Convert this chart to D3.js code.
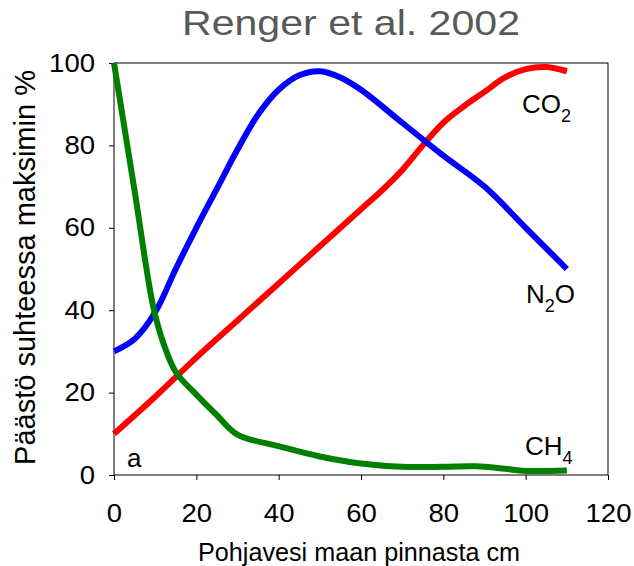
<!DOCTYPE html>
<html>
<head>
<meta charset="utf-8">
<script src="https://cdn.jsdelivr.net/npm/d3@7/dist/d3.min.js"></script>
<style>
  body { margin: 0; background: #fff; }
  text { font-family: "Liberation Sans", Arial, sans-serif; }
</style>
</head>
<body>
<div id="root"></div>
<script>
var w = 634,
    h = 566;

// depth below soil surface (cm) and emission relative to maximum (%)
var co2Depth = [0, 10, 20, 30, 40, 50, 60, 65, 70, 75, 80, 85, 90, 95, 100, 105, 110];
var co2Value = [10, 19, 28.5, 37.5, 46.5, 55.5, 64.5, 69, 74, 80, 85.5, 89.5, 93, 96.5, 98.5, 99, 98];

var n2oDepth = [0, 5, 10, 15, 20, 25, 30, 35, 40, 45, 50, 55, 60, 70, 80, 90, 100, 110];
var n2oValue = [30, 33, 39.5, 50, 60, 69.5, 79, 87.5, 93.5, 97, 98, 96.5, 93.5, 85.5, 77.5, 70, 60, 50];

var ch4Depth = [0, 5, 9.5, 12, 15, 20, 25, 30, 40, 50, 60, 70, 80, 88, 95, 100, 110];
var ch4Value = [100, 69, 41, 32, 25, 19.5, 14.5, 9.8, 7, 4.5, 2.8, 2, 2, 2.1, 1.5, 1, 1.1];

var xTicks = [0, 20, 40, 60, 80, 100, 120];
var yTicks = [0, 20, 40, 60, 80, 100];

var margin = { left: 114, right: 26, top: 63, bottom: 91 };

var svg = d3.select('#root')
  .append('svg')
    .attr('width', w)
    .attr('height', h);

var x = d3.scaleLinear()
    .domain([0, 120])
    .range([margin.left, w - margin.right]);

var y = d3.scaleLinear()
    .domain([0, 100])
    .range([h - margin.bottom, margin.top]);

// frame
svg.append('rect')
    .attr('x', x(0))
    .attr('y', y(100))
    .attr('width', x(120) - x(0))
    .attr('height', y(0) - y(100))
    .attr('fill', 'none')
    .attr('stroke', '#000')
    .attr('stroke-width', 1);

var xAxis = svg.append('g')
    .attr('transform', 'translate(0,' + y(0) + ')')
    .call(d3.axisBottom(x).tickValues(xTicks).tickSize(5).tickPadding(24).tickFormat(d3.format('d')));

var yAxis = svg.append('g')
    .attr('transform', 'translate(' + x(0) + ',0)')
    .call(d3.axisLeft(y).tickValues(yTicks).tickSize(5).tickPadding(14).tickFormat(d3.format('d')));

[xAxis, yAxis].forEach(function (ax) {
  ax.select('.domain').remove();
  ax.selectAll('line').attr('stroke', '#000');
  ax.selectAll('text')
      .attr('fill', '#000')
      .style('font-size', '25px')
      .attr('lengthAdjust', 'spacingAndGlyphs')
      .attr('textLength', function (d) {
        return String(d).length * 15.3;
      });
});
xAxis.selectAll('text').attr('dy', '0.71em');

var line = d3.line()
    .x(function (d) { return x(d[0]); })
    .y(function (d) { return y(d[1]); })
    .curve(d3.curveCatmullRom.alpha(0.5));

function pairs(xs, ys) {
  return xs.map(function (v, i) { return [v, ys[i]]; });
}

var series = [
  { name: 'co2', colour: '#ff0000', points: pairs(co2Depth, co2Value) },
  { name: 'n2o', colour: '#0000ff', points: pairs(n2oDepth, n2oValue) },
  { name: 'ch4', colour: '#008000', points: pairs(ch4Depth, ch4Value) }
];

svg.selectAll('.series')
    .data(series)
  .enter().append('path')
    .attr('class', 'series')
    .attr('d', function (d) { return line(d.points); })
    .attr('fill', 'none')
    .attr('stroke', function (d) { return d.colour; })
    .attr('stroke-width', 6)
    .attr('stroke-linejoin', 'round');

// gas labels with subscripts
var labels = [
  { parts: ['CO', '2', ''], x: 522, y: 113 },
  { parts: ['N', '2', 'O'], x: 526, y: 303 },
  { parts: ['CH', '4', ''], x: 525, y: 455 }
];

labels.forEach(function (l) {
  var t = svg.append('text')
      .attr('x', l.x)
      .attr('y', l.y)
      .style('font-size', '26px')
      .attr('fill', '#000');
  t.append('tspan').text(l.parts[0]);
  t.append('tspan').text(l.parts[1]).style('font-size', '18px').attr('dy', 9);
  if (l.parts[2]) t.append('tspan').text(l.parts[2]).attr('dy', -9);
});

svg.append('text')
    .attr('x', 127)
    .attr('y', 467)
    .style('font-size', '26px')
    .text('a');

// title
svg.append('text')
    .attr('x', 182)
    .attr('y', 35)
    .style('font-size', '35px')
    .attr('fill', '#595959')
    .attr('lengthAdjust', 'spacingAndGlyphs')
    .attr('textLength', 338)
    .text('Renger et al. 2002');

// axis titles
svg.append('text')
    .attr('x', 198)
    .attr('y', 561)
    .style('font-size', '26px')
    .attr('lengthAdjust', 'spacingAndGlyphs')
    .attr('textLength', 322)
    .text('Pohjavesi maan pinnasta cm');

svg.append('text')
    .attr('transform', 'translate(35,267.5) rotate(-90)')
    .attr('text-anchor', 'middle')
    .style('font-size', '29px')
    .text('Päästö suhteessa maksimin %');
</script>
</body>
</html>
